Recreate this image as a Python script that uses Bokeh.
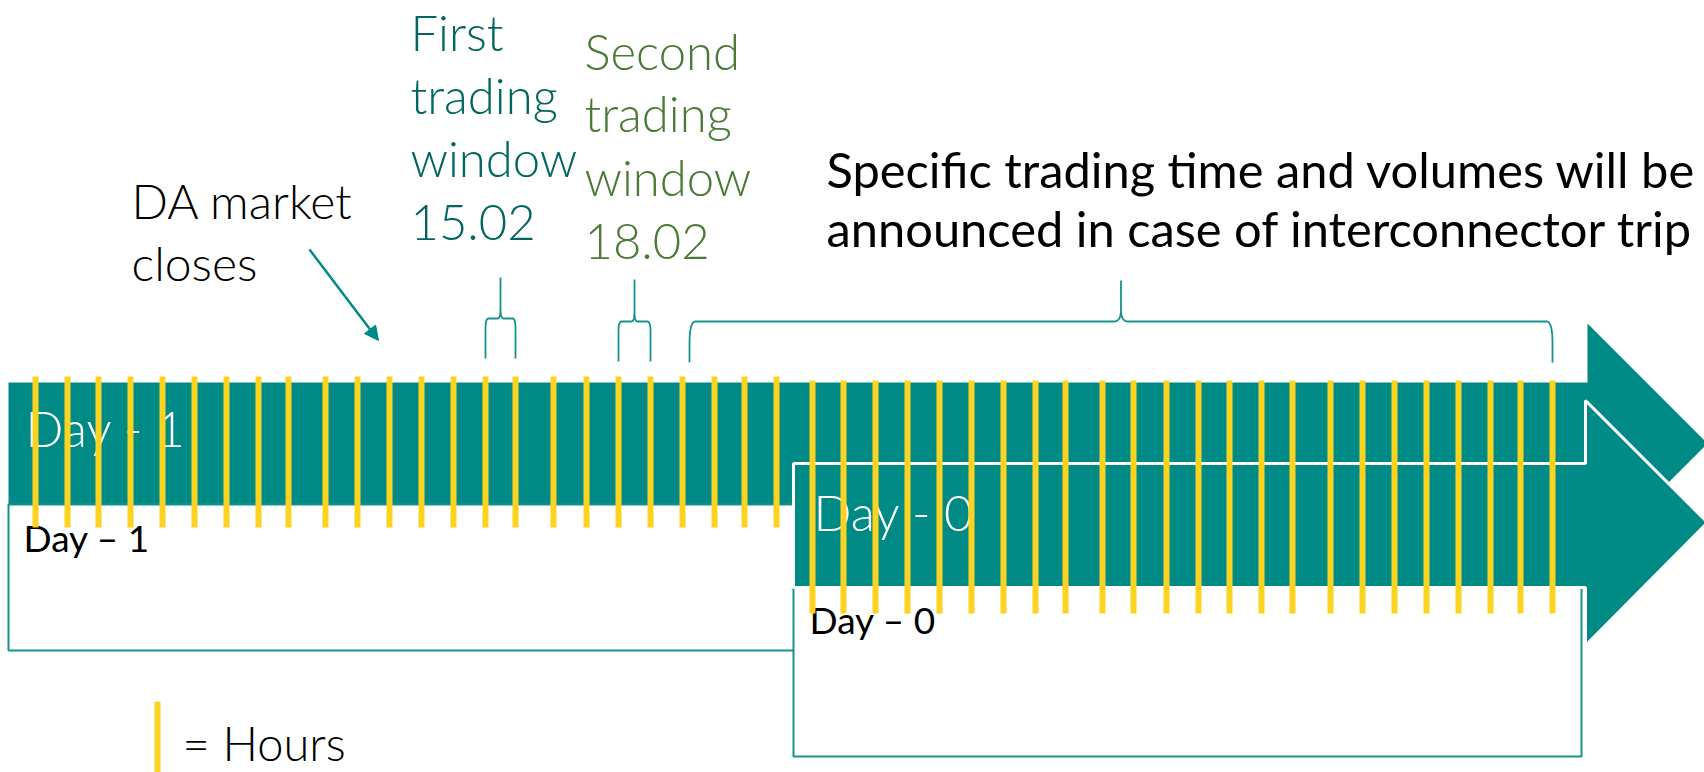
import numpy as np
from bokeh.plotting import figure
from bokeh.models import Range1d, Arrow, NormalHead
from bokeh.core.properties import value
from bokeh.embed import file_html
from bokeh.resources import INLINE

# ---------------- data ----------------
# x position of each hour mark (24 per day)
day_minus1_hours_x = [35, 67, 98, 130, 162, 194, 226, 258, 288, 325, 357, 389,
                      421, 453, 485, 515, 553, 586, 618, 650, 682, 714, 744, 776]
day0_hours_x = [812, 843, 875, 907, 939, 971, 1003, 1035, 1065, 1102, 1133, 1166,
                1198, 1229, 1261, 1292, 1330, 1362, 1394, 1426, 1458, 1490, 1520, 1552]

first_window_hours = (14, 15)      # Day-1 hours
second_window_hours = (18, 19)     # Day-1 hours
trip_window = ((-1, 20), (0, 23))  # (day, hour) start and end

first_label = ["First", "trading", "window", "15.02"]
second_label = ["Second", "trading", "window", "18.02"]
da_label = ["DA market", "closes"]
trip_label = ["Specific trading time and volumes will be",
              "announced in case of interconnector trip"]
day_labels_big = ["Day - 1", "Day - 0"]
day_labels_small = ["Day \u2013 1", "Day \u2013 0"]
legend_label = "= Hours"

# ---------------- styles ----------------
TEAL = "#008A85"
TEAL_LINE = "#17918D"
YELLOW = "#FDD321"
DARK_TEAL_TXT = "#00665F"
GREEN_TXT = "#4A7A36"
LIGHT = value("Lato Light")
REG = value("Lato")

W, H = 1704, 772
p = figure(width=W, height=H, x_range=Range1d(0, W), y_range=Range1d(H, 0),
           output_backend="svg", toolbar_location=None, min_border=0,
           x_axis_type=None, y_axis_type=None)
p.outline_line_color = None
p.background_fill_color = "white"
p.border_fill_color = "white"

def hx(day, h):
    return day_minus1_hours_x[h] if day == -1 else day0_hours_x[h]

def label(xs, baselines, texts, font, size, color):
    # place text so that its alphabetic baseline falls on the given y
    ys = [b - 0.42 * size for b in baselines]
    p.text(x=xs, y=ys, text=texts, text_font=font,
           text_font_size=value(f"{size}px"), text_color=color,
           text_baseline="alphabetic", text_align="left")

# ---- Day -1 arrow ----
p.patch([8, 1587, 1587, 1707, 1587, 1587, 8], [382, 382, 323, 443, 563, 504, 504],
        fill_color=TEAL, line_color=None)
p.quad(left=[8], right=[1000], top=[504], bottom=[650], fill_color="white",
       line_color=TEAL_LINE, line_width=2)
label([25], [448], [day_labels_big[0]], LIGHT, 50, "white")
label([23], [553], [day_labels_small[0]], REG, 37, "black")
p.segment(x0=day_minus1_hours_x, y0=[376] * 24, x1=day_minus1_hours_x, y1=[527] * 24,
          line_color=YELLOW, line_width=6)

# ---- Day 0 arrow ----
p.quad(left=[793], right=[1581], top=[587], bottom=[756], fill_color="white",
       line_color=TEAL_LINE, line_width=2)
p.patch([793, 1585, 1585, 1707, 1585, 1585, 793], [463, 463, 400, 522, 645, 587, 587],
        fill_color=TEAL, line_color="white", line_width=3)
label([813], [532], [day_labels_big[1]], LIGHT, 50, "white")
label([809], [635], [day_labels_small[1]], REG, 37, "black")
p.segment(x0=day0_hours_x, y0=[380] * 24, x1=day0_hours_x, y1=[613] * 24,
          line_color=YELLOW, line_width=6)

# ---- curly braces ----
def quad_bez(p0, c, p2, n=12):
    t = np.linspace(0, 1, n)
    x = (1 - t) ** 2 * p0[0] + 2 * (1 - t) * t * c[0] + t ** 2 * p2[0]
    y = (1 - t) ** 2 * p0[1] + 2 * (1 - t) * t * c[1] + t ** 2 * p2[1]
    return list(x), list(y)

def brace(x0, x1, yb, yh, yt, rh, rv, th, tv):
    xc = (x0 + x1) / 2
    xs, ys = [x0], [yb]
    a, b = quad_bez((x0, yh + rv), (x0, yh), (x0 + rh, yh)); xs += a; ys += b
    a, b = quad_bez((xc - th, yh), (xc, yh), (xc, yh - tv)); xs += a; ys += b
    xs += [xc, xc]; ys += [yt, yh - tv]
    a, b = quad_bez((xc, yh - tv), (xc, yh), (xc + th, yh)); xs += a; ys += b
    a, b = quad_bez((x1 - rh, yh), (x1, yh), (x1, yh + rv)); xs += a; ys += b
    xs += [x1]; ys += [yb]
    return xs, ys

bx, by = [], []
for (h0, h1), (ybot, yhor, ytip) in [(first_window_hours, (358, 318, 277)),
                                     (second_window_hours, (361, 321, 279))]:
    xs, ys = brace(hx(-1, h0), hx(-1, h1), ybot, yhor, ytip, 3, 10, 3, 10)
    bx.append(xs); by.append(ys)
(d0, h0), (d1, h1) = trip_window
xs, ys = brace(hx(d0, h0) + 7, hx(d1, h1), 362, 321, 280, 6, 22, 7, 12)
bx.append(xs); by.append(ys)
p.multi_line(bx, by, line_color=TEAL_LINE, line_width=1.8)

# ---- labels ----
label([410] * 4, [52, 115, 178, 243], first_label, LIGHT, 49, DARK_TEAL_TXT)
label([584] * 4, [71, 133, 197, 262], second_label, LIGHT, 49, GREEN_TXT)
label([131] * 2, [220, 282], da_label, LIGHT, 48, "black")
label([826] * 2, [189, 248], trip_label, REG, 48.8, "black")

p.add_layout(Arrow(end=NormalHead(size=14, fill_color=TEAL, line_color=TEAL),
                   x_start=309, y_start=249, x_end=378, y_end=340,
                   line_color=TEAL, line_width=2.5))

# ---- legend ----
p.segment(x0=[157], y0=[701], x1=[157], y1=[772], line_color=YELLOW, line_width=6)
label([182], [762], [legend_label], LIGHT, 47, "black")

open("out.html", "w").write(file_html(p, INLINE))
